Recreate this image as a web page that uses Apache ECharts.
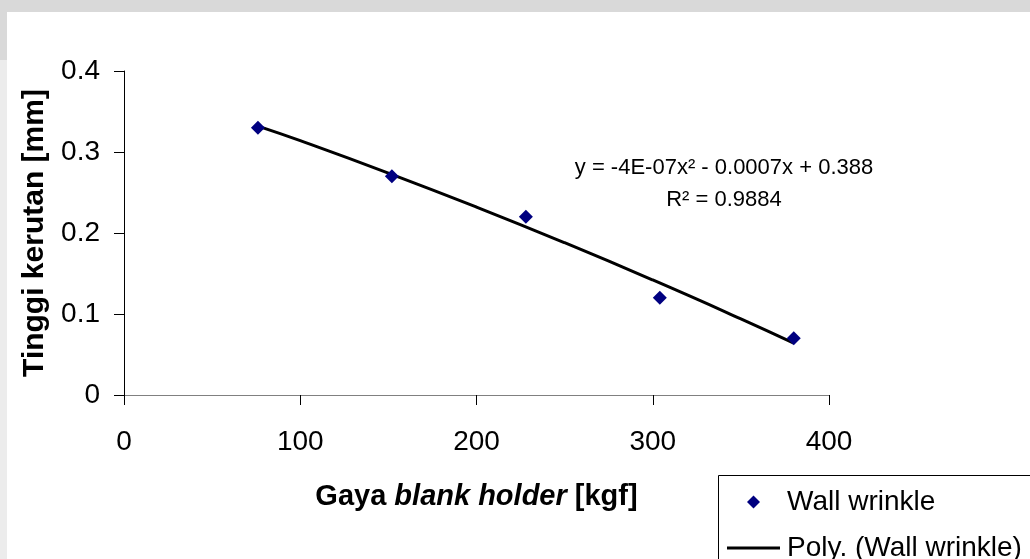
<!DOCTYPE html>
<html>
<head>
<meta charset="utf-8">
<script src="https://cdn.jsdelivr.net/npm/echarts@6/dist/echarts.min.js"></script>
<style>
html,body{margin:0;padding:0;background:#d9d9d9;}
#chart{width:1030px;height:559px;}
</style>
</head>
<body>
<div id="chart"></div>
<script>
// Data
const forceKgf = [76, 152, 228, 304, 380];
const wrinkleMm = [0.33, 0.27, 0.22, 0.12, 0.07];
// Points read along the drawn polynomial trendline
const trendX = [76, 100, 150, 200, 250, 300, 350, 380];
const trendY = [0.332, 0.314, 0.274, 0.232, 0.188, 0.142, 0.094, 0.064];
const equationText = 'y = -4E-07x\u00B2 - 0.0007x + 0.388';
const r2Text = 'R\u00B2 = 0.9884';
const seriesName = 'Wall wrinkle';
const trendName = 'Poly. (Wall wrinkle)';

const FONT = 'Liberation Sans, Arial, sans-serif';
const chart = echarts.init(document.getElementById('chart'), null, {renderer: 'canvas'});

const option = {
  backgroundColor: '#d9d9d9',
  animation: false,
  textStyle: {fontFamily: FONT, color: '#000'},
  grid: {left: 124, right: 201, top: 71, bottom: 164, containLabel: false},
  graphic: [
    {type: 'rect', z: -10, silent: true, shape: {x: 7, y: 12, width: 1023, height: 547}, style: {fill: '#ffffff'}},
    {type: 'rect', z: -10, silent: true, shape: {x: 0, y: 60, width: 7, height: 499}, style: {fill: '#ececec'}},
    {type: 'rect', z: 50, silent: true, shape: {x: 718.5, y: 475.5, width: 330, height: 100}, style: {fill: '#ffffff', stroke: '#000', lineWidth: 1}},
    {type: 'text', z: 60, silent: true, x: 724, y: 168,
      style: {text: equationText, font: '22px ' + FONT, fill: '#000', align: 'center', verticalAlign: 'middle'}},
    {type: 'text', z: 60, silent: true, x: 724, y: 200,
      style: {text: r2Text, font: '22px ' + FONT, fill: '#000', align: 'center', verticalAlign: 'middle'}}
  ],
  legend: [
    {
      z: 60, left: 747, top: 488, orient: 'vertical', padding: 0,
      itemWidth: 13, itemHeight: 13,
      data: [{name: seriesName, icon: 'diamond', itemStyle: {color: '#000080', opacity: 1}}],
      textStyle: {fontFamily: FONT, fontSize: 28, color: '#000', padding: [0, 0, 0, 22]}
    },
    {
      z: 60, left: 727, top: 534, orient: 'vertical', padding: 0,
      itemWidth: 53, itemHeight: 3,
      data: [{name: trendName, icon: 'rect', itemStyle: {color: '#000'}}],
      textStyle: {fontFamily: FONT, fontSize: 28, color: '#000', padding: [0, 0, 0, 2]}
    }
  ],
  xAxis: {
    type: 'value', min: 0, max: 400, interval: 100,
    name: '{b|Gaya }{bi|blank holder}{b| [kgf]}',
    nameLocation: 'middle', nameGap: 87,
    nameTextStyle: {
      rich: {
        b: {fontFamily: FONT, fontSize: 29, fontWeight: 'bold', color: '#000'},
        bi: {fontFamily: FONT, fontSize: 29, fontWeight: 'bold', fontStyle: 'italic', color: '#000'}
      }
    },
    axisLine: {show: true, onZero: false, lineStyle: {color: '#808080', width: 1}},
    axisTick: {show: true, inside: false, length: 10, lineStyle: {color: '#000', width: 1}},
    axisLabel: {fontFamily: FONT, fontSize: 28, color: '#000', margin: 33},
    splitLine: {show: false}
  },
  yAxis: {
    type: 'value', min: 0, max: 0.4, interval: 0.1,
    name: 'Tinggi kerutan [mm]',
    nameLocation: 'middle', nameGap: 72, nameRotate: 90,
    nameTextStyle: {fontFamily: FONT, fontSize: 30, fontWeight: 'bold', color: '#000'},
    axisLine: {show: true, onZero: false, lineStyle: {color: '#000', width: 1}},
    axisTick: {show: true, inside: false, length: 10, lineStyle: {color: '#000', width: 1}},
    axisLabel: {fontFamily: FONT, fontSize: 28, color: '#000', margin: 24},
    splitLine: {show: false}
  },
  series: [
    {
      name: trendName, type: 'line', z: 2,
      data: trendX.map((x, i) => [x, trendY[i]]),
      smooth: true, symbol: 'none', showSymbol: false,
      lineStyle: {color: '#000', width: 3},
      itemStyle: {color: '#000'}
    },
    {
      name: seriesName, type: 'scatter', z: 3,
      data: forceKgf.map((x, i) => [x, wrinkleMm[i]]),
      symbol: 'diamond', symbolSize: 14,
      itemStyle: {color: '#000080', opacity: 1}
    }
  ]
};
chart.setOption(option);
</script>
</body>
</html>
